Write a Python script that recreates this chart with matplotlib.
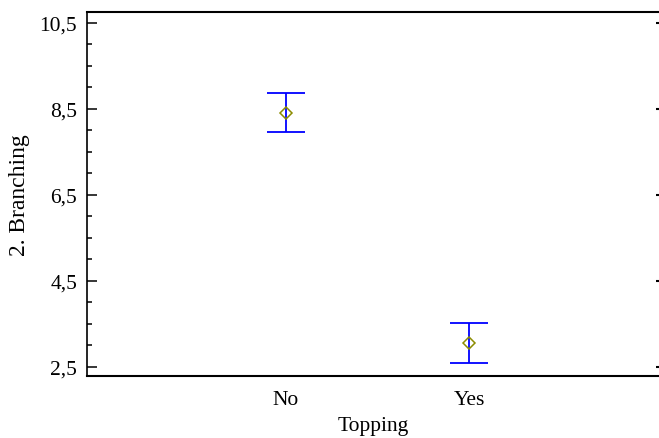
import matplotlib.pyplot as plt
from matplotlib.ticker import MultipleLocator, FuncFormatter

plt.rcParams['font.family'] = ['Liberation Serif', 'DejaVu Serif']
plt.rcParams['font.size'] = 15.5

# Means plot with intervals
groups = ['No', 'Yes']
means = [8.41, 3.05]
lower = [7.965, 2.59]
upper = [8.86, 3.52]
ylabel = '2. Branching'
xlabel = 'Topping'

xpos = list(range(1, len(groups) + 1))
err_lo = [m - l for m, l in zip(means, lower)]
err_hi = [u - m for m, u in zip(means, upper)]

fig = plt.figure(figsize=(6.59, 4.39), dpi=100)
ax = fig.add_axes([87 / 659, 62 / 439, 572 / 659, 364 / 439])

ax.errorbar(xpos, means, yerr=[err_lo, err_hi], fmt='none', ecolor='#0000ff',
            elinewidth=1.3, capsize=13.5, capthick=1.3)
ax.plot(xpos, means, linestyle='none', marker='D', markersize=6,
        markerfacecolor='none', markeredgecolor='#8c8c00', markeredgewidth=1.1)

ax.set_xlim(-0.087, 3.038)
ax.set_ylim(2.29, 10.745)
ax.set_xticks(xpos)
ax.set_xticklabels(groups)
ax.yaxis.set_major_locator(MultipleLocator(2, offset=0.5))
ax.yaxis.set_minor_locator(MultipleLocator(0.5, offset=0.0))
ax.yaxis.set_major_formatter(FuncFormatter(lambda v, p: f'{v:.1f}'.replace('.', ',')))

ax.tick_params(axis='x', length=0, pad=10)
ax.tick_params(axis='y', which='major', direction='in', length=7, width=1.1, pad=7)
ax.tick_params(axis='y', which='minor', direction='in', length=3.5, width=1.1)

ax.spines['right'].set_visible(False)
for s in ['top', 'bottom']:
    ax.spines[s].set_linewidth(1.5)
ax.spines['left'].set_linewidth(1.2)

# small marks on the right edge
ax2 = ax.twinx()
ax2.set_ylim(ax.get_ylim())
ax2.yaxis.set_major_locator(MultipleLocator(2, offset=0.5))
ax2.tick_params(axis='y', direction='in', length=2, width=1.5, labelright=False)
for s in ax2.spines.values():
    s.set_visible(False)

ax.set_ylabel(ylabel, fontsize=17, labelpad=7)
ax.set_xlabel(xlabel, labelpad=5)

plt.savefig('out.png', dpi=100)
